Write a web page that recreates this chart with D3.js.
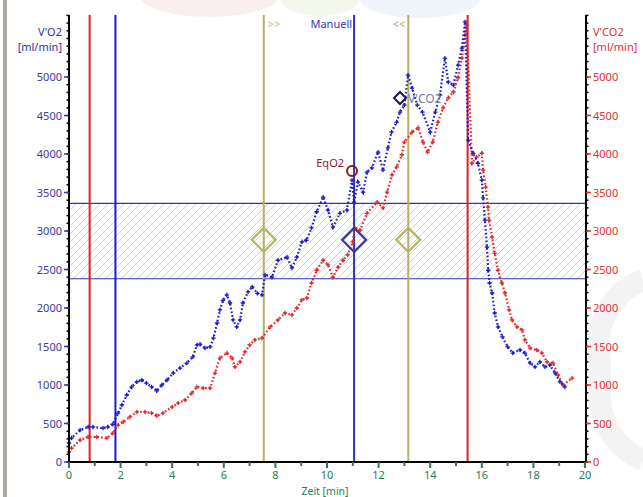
<!DOCTYPE html>
<html><head><meta charset="utf-8">
<script src="https://cdn.jsdelivr.net/npm/d3@7/dist/d3.min.js"></script>
<style>body{margin:0;background:#fff}svg{display:block}text{font-family:"Noto Sans","DejaVu Sans",sans-serif}</style>
</head><body>
<script>
// Time (min) and V'O2 (ml/min)
const vo2T = [0,0.1,0.43,0.74,0.93,1.32,1.5,1.7,1.9,2.05,2.24,2.43,2.63,2.82,3.0,3.2,3.4,3.6,3.8,4.04,4.3,4.57,4.8,4.96,5.08,5.27,5.47,5.6,5.74,5.85,5.97,6.12,6.24,6.36,6.5,6.63,6.74,6.94,7.1,7.3,7.48,7.6,7.87,8.1,8.45,8.64,8.83,9.03,9.2,9.4,9.6,9.85,10.04,10.23,10.5,10.77,10.97,11.05,11.2,11.4,11.55,11.74,11.98,12.17,12.36,12.5,12.7,12.83,13.0,13.14,13.3,13.5,13.7,14.0,14.2,14.38,14.57,14.7,14.9,15.08,15.23,15.35,15.47,15.66,15.85,16.0,16.05,16.12,16.2,16.25,16.3,16.4,16.5,16.63,16.8,17.0,17.2,17.48,17.67,17.87,18.06,18.25,18.45,18.64,18.84,19.03,19.22];
const vo2V = [247,312,415,455,455,440,455,490,635,740,870,975,1040,1065,1025,975,925,1000,1065,1155,1220,1285,1365,1520,1530,1480,1495,1610,1805,1975,2100,2170,2065,1845,1755,1845,2065,2210,2275,2190,2170,2430,2400,2620,2660,2520,2660,2860,2880,3040,3250,3440,3270,3050,3230,3270,3660,3375,3635,3505,3765,3820,4025,3790,4080,4285,4415,4545,4635,5025,4855,4635,4545,4285,4545,4765,5245,4935,4895,5155,5375,5715,4180,4010,3880,3660,3430,3140,2790,2490,2325,2195,1935,1755,1625,1495,1415,1455,1415,1285,1235,1300,1235,1260,1155,1040,975];
// Time (min) and V'CO2 (ml/min)
const vco2T = [0,0.1,0.43,0.74,1.08,1.47,1.7,1.9,2.1,2.36,2.63,2.95,3.2,3.4,3.64,4.0,4.23,4.5,4.76,4.96,5.2,5.47,5.66,5.85,6.12,6.32,6.43,6.63,6.82,7.0,7.2,7.48,7.8,8.1,8.37,8.64,8.83,9.03,9.22,9.4,9.6,9.85,10.04,10.23,10.43,10.62,10.8,11.0,11.08,11.28,11.55,11.94,12.17,12.33,12.52,12.7,12.9,13.0,13.3,13.53,13.72,13.9,14.1,14.3,14.5,14.7,14.9,15.08,15.23,15.35,15.42,15.62,15.8,16.0,16.05,16.15,16.24,16.28,16.4,16.5,16.63,16.78,16.9,17.06,17.17,17.36,17.56,17.67,17.87,18.13,18.33,18.53,18.76,18.95,19.15,19.5];
const vco2V = [130,180,285,325,325,310,375,480,520,585,650,650,635,600,635,715,765,805,895,975,960,960,1155,1350,1415,1350,1235,1300,1430,1520,1585,1610,1755,1845,1935,1910,2000,2105,2130,2325,2490,2620,2560,2400,2530,2620,2690,2860,3040,3010,3230,3375,3300,3505,3730,3830,3990,4155,4285,4340,4155,4025,4155,4415,4600,4730,4805,4990,5245,5545,5675,3880,3960,4010,3790,3570,3310,3140,2920,2710,2490,2325,2195,1975,1845,1755,1715,1585,1480,1455,1415,1300,1285,1130,1000,1090];
const xTicks = [0,2,4,6,8,10,12,14,16,18,20];
const yTicks = [0,500,1000,1500,2000,2500,3000,3500,4000,4500,5000];
// Markers
const redLines = [0.8,15.45];
const blueLines = [1.8];
const olivePhaseLines = [7.55,13.15];
const manualLine = 11.05;
const bandRange = [2380,3360];
const phaseDiamonds = [[7.55,2885],[13.15,2885]];
const manualDiamond = [11.05,2885];
const eqo2Point = [10.97,3780];
const vco2Point = [12.83,4727];

const W=643,H=497, L=69,R=585,T=15,B=462;
const svg=d3.select("body").append("svg").attr("width",W).attr("height",H);
const x=d3.scaleLinear().domain([0,20]).range([L,R]);
const y=d3.scaleLinear().domain([0,5000]).range([B,77]);
const yTop=y.invert(T);

// faint background decoration
svg.append("rect").attr("x",3).attr("y",0).attr("width",4).attr("height",H).attr("fill","#b0a8a0");
svg.append("ellipse").attr("cx",210).attr("cy",-5).attr("rx",70).attr("ry",22).attr("fill","#fbeeee");
svg.append("ellipse").attr("cx",320).attr("cy",-2).attr("rx",40).attr("ry",18).attr("fill","#f4f7ec");
svg.append("ellipse").attr("cx",420).attr("cy",-2).attr("rx",60).attr("ry",20).attr("fill","#eef4fa");
svg.append("path").attr("d","M643,280 A70,70 0 0 0 600,360 L600,400 A70,70 0 0 0 643,460").attr("fill","none").attr("stroke","#f3f3f3").attr("stroke-width",22);

// hatch band
const defs=svg.append("defs");
const pat=defs.append("pattern").attr("id","hatch").attr("patternUnits","userSpaceOnUse").attr("width",8).attr("height",8);
pat.append("path").attr("d","M-2,2L2,-2M0,8L8,0M6,10L10,6").attr("stroke","#c8c8c8").attr("stroke-width",0.8);
svg.append("rect").attr("x",L).attr("width",R-L).attr("y",y(bandRange[1])).attr("height",y(bandRange[0])-y(bandRange[1])).attr("fill","url(#hatch)");
bandRange.forEach(v=>svg.append("line").attr("x1",L).attr("x2",R).attr("y1",y(v)).attr("y2",y(v)).attr("stroke","#3535a5").attr("stroke-width",1.2));

// vertical lines
const vline=(t,c,w)=>svg.append("line").attr("x1",x(t)).attr("x2",x(t)).attr("y1",T).attr("y2",B).attr("stroke",c).attr("stroke-width",w);
redLines.forEach(t=>vline(t,"#e02020",2));
blueLines.forEach(t=>vline(t,"#1a1ad0",2));
olivePhaseLines.forEach(t=>vline(t,"#b5b060",2));
vline(manualLine,"#3535a5",2);

// data
function series(T_,V_,c){
  const pts=T_.map((t,i)=>[x(t),y(V_[i])]);
  svg.append("path").attr("d",d3.line()(pts)).attr("fill","none").attr("stroke",c).attr("stroke-width",2.2).attr("stroke-dasharray","1.6,2.2");
  svg.append("g").selectAll("path").data(pts).join("path").attr("d",d=>`M${d[0]-2.2},${d[1]}H${d[0]+2.2}M${d[0]},${d[1]-2.2}V${d[1]+2.2}`).attr("stroke",c).attr("stroke-width",1.3);
}
series(vco2T,vco2V,"#e02828");
series(vo2T,vo2V,"#1a1ac8");

// diamonds
const diamond=(cx,cy,r,c,w)=>svg.append("path").attr("d",`M${cx},${cy-r}L${cx+r},${cy}L${cx},${cy+r}L${cx-r},${cy}Z`).attr("fill","none").attr("stroke",c).attr("stroke-width",w);
phaseDiamonds.forEach(d=>diamond(x(d[0]),y(d[1]),12,"#b8b468",2.2));
diamond(x(manualDiamond[0]),y(manualDiamond[1]),12,"#3a3aa8",2.2);
diamond(x(vco2Point[0]),y(vco2Point[1]),6,"#1a1a50",2);
svg.append("text").attr("x",x(vco2Point[0])+8).attr("y",y(vco2Point[1])+5).attr("font-size",12).attr("fill","#7080a0").text("V'CO2");
svg.append("circle").attr("cx",x(eqo2Point[0])).attr("cy",y(eqo2Point[1])).attr("r",5).attr("fill","none").attr("stroke","#8a1a1a").attr("stroke-width",2);
svg.append("text").attr("x",x(eqo2Point[0])-8).attr("y",y(eqo2Point[1])-4).attr("text-anchor","end").attr("font-size",11).attr("fill","#8a1a1a").text("EqO2");

// top labels
svg.append("text").attr("x",x(olivePhaseLines[0])+4).attr("y",28).attr("font-size",11).attr("fill","#c8b890").text(">>");
svg.append("text").attr("x",x(manualLine)-2).attr("y",28).attr("text-anchor","end").attr("font-size",11).attr("fill","#3535b5").text("Manuell");
svg.append("text").attr("x",x(olivePhaseLines[1])-3).attr("y",28).attr("text-anchor","end").attr("font-size",11).attr("fill","#b0a860").text("<<");

// axes
const yMinor=d3.range(0,yTop,100);
function yAxis(xp,dir,col){
  svg.append("line").attr("x1",xp).attr("x2",xp).attr("y1",T).attr("y2",B+1).attr("stroke","#000").attr("stroke-width",2);
  svg.append("g").selectAll("line").data(yMinor).join("line").attr("x1",xp).attr("x2",xp+dir*2.5).attr("y1",d=>y(d)).attr("y2",d=>y(d)).attr("stroke","#000").attr("stroke-width",1.5);
  svg.append("g").selectAll("line").data(yTicks).join("line").attr("x1",xp).attr("x2",xp+dir*5).attr("y1",d=>y(d)).attr("y2",d=>y(d)).attr("stroke",col).attr("stroke-width",1.5);
  svg.append("g").selectAll("text").data(yTicks).join("text").attr("x",xp+dir*7).attr("y",d=>y(d)+4).attr("text-anchor",dir<0?"end":"start").attr("font-size",11).attr("fill",col).text(d=>d);
}
yAxis(L,-1,"#3838a8");
yAxis(R+1,1,"#e03030");
svg.append("line").attr("x1",L-1).attr("x2",R+1).attr("y1",B).attr("y2",B).attr("stroke","#000").attr("stroke-width",2);
svg.append("g").selectAll("line").data(d3.range(0,21,1)).join("line").attr("x1",d=>x(d)).attr("x2",d=>x(d)).attr("y1",B).attr("y2",d=>B+(d%2?4:6)).attr("stroke","#2a7a55").attr("stroke-width",2);
svg.append("g").selectAll("text").data(xTicks).join("text").attr("x",d=>x(d)).attr("y",B+17).attr("text-anchor","middle").attr("font-size",11).attr("fill","#2a7a55").text(d=>d);
svg.append("text").attr("x",325).attr("y",495).attr("text-anchor","middle").attr("font-size",10.5).attr("fill","#2a7a55").text("Zeit  [min]");
svg.append("text").attr("x",62).attr("y",36).attr("text-anchor","end").attr("font-size",11).attr("fill","#3030a0").text("V'O2");
svg.append("text").attr("x",62).attr("y",51).attr("text-anchor","end").attr("font-size",11).attr("fill","#3030a0").text("[ml/min]");
svg.append("text").attr("x",593).attr("y",36).attr("font-size",11).attr("fill","#e03030").text("V'CO2");
svg.append("text").attr("x",593).attr("y",51).attr("font-size",11).attr("fill","#e03030").text("[ml/min]");
</script>
</body></html>
